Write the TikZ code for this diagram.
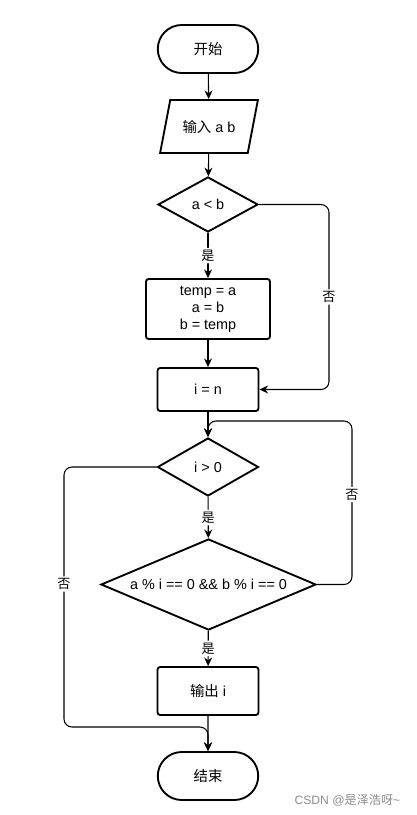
\documentclass[tikz,border=0pt]{standalone}
\usepackage{fontspec}
\setmainfont{Liberation Sans}
\newfontfamily\cjk{Noto Sans CJK SC}
\usetikzlibrary{shapes.geometric,shapes.misc,arrows.meta}

\begin{document}
\begin{tikzpicture}[x=0.75pt, y=-0.75pt, >={Stealth[length=6.5pt,width=6pt]},
    font=\fontsize{10.8}{12.75}\selectfont,
    terminal/.style={rounded rectangle, draw, line width=1.4pt, minimum width=82pt, minimum height=36pt},
    io/.style={trapezium, trapezium left angle=70, trapezium right angle=110, trapezium stretches=true,
        draw, line width=1.4pt, minimum width=73.5pt, minimum height=39.75pt},
    process/.style={rectangle, rounded corners=2pt, draw, line width=1.4pt, minimum width=75.75pt, align=center},
    decision/.style={diamond, draw, line width=1.4pt, inner sep=0pt},
    flow/.style={->, line width=0.8pt, rounded corners=6pt},
    yes/.style={fill=white, inner sep=1.5pt, font=\fontsize{9.8}{9.8}\selectfont\cjk}]
    \useasboundingbox (0,0) rectangle (417,815);

    % Knoten
    \node[terminal] (start) at (208,49) {\cjk 开始};
    \node[io] (input) at (209,126.5) {{\cjk 输入} a b};
    \node[decision, minimum width=75pt, minimum height=41.25pt] (cmp) at (208,204.5) {a < b};
    \node[process, minimum width=93pt, minimum height=45pt] (swap) at (208,309) {temp = a\\a = b\\b = temp};
    \node[process, minimum height=32.25pt] (init) at (208,389.5) {i = n};
    \node[decision, minimum width=75.75pt, minimum height=43.5pt] (loop) at (208,467) {i > 0};
    \node[decision, shape aspect=2.4, minimum width=161.25pt, minimum height=68.25pt] (check) at (208.5,584.5)
        {a \% i == 0 \&\& b \% i == 0};
    \node[process, minimum height=36pt] (out) at (208,691) {{\cjk 输出} i};
    \node[terminal] (stop) at (208,776) {\cjk 结束};

    % Verbindungen
    \draw[flow] (start) -- (input);
    \draw[flow] (input) -- (cmp);
    \draw[flow] (cmp) -- node[yes] {是} (swap);
    \draw[flow] (swap) -- (init);
    \draw[flow] (cmp.east) -- (329,204.5) -- node[yes] {否} (329,389.5) -- (init.east);
    \draw[flow] (init) -- (loop);
    \draw[flow] (loop) -- node[yes] {是} (check);
    \draw[flow] (check.east) -- (352,584.5) -- node[yes, pos=0.55] {否} (352,421) -- (208,421) -- (loop.north);
    \draw[flow] (check) -- node[yes] {是} (out);
    \draw[flow] (loop.west) -- (64,467) -- node[yes, pos=0.45] {否} (64,727) -- (208,727) -- (stop.north);
    \draw[flow] (out) -- (stop);

    % Wasserzeichen
    \node[anchor=east, text=black!45, font=\fontsize{9.1}{9.1}\selectfont] (mark) at (405,800)
        {CSDN @{\cjk 是泽浩呀}\textasciitilde};
\end{tikzpicture}
\end{document}
